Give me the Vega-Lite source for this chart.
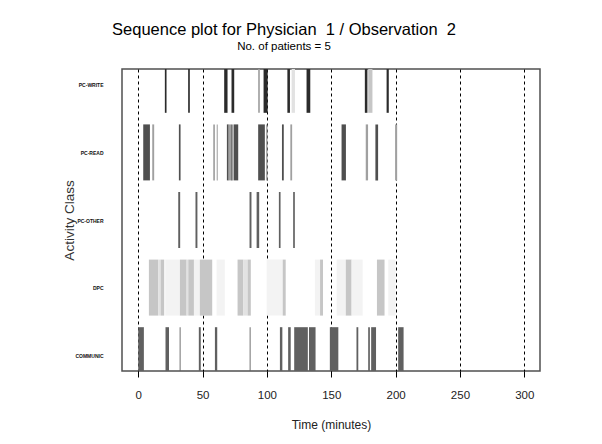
{
  "$schema": "https://vega.github.io/schema/vega-lite/v6.json",
  "width": 418,
  "height": 302,
  "autosize": {"type": "none"},
  "padding": {"left": 122, "top": 69, "right": 62, "bottom": 73},
  "background": "white",
  "title": {
    "text": "Sequence plot for Physician\u00a0 1 / Observation\u00a0 2",
    "subtitle": "No. of patients = 5",
    "anchor": "middle",
    "frame": "group",
    "dx": -47,
    "offset": 17,
    "font": "Liberation Sans",
    "fontSize": 16.5,
    "fontWeight": "normal",
    "color": "black",
    "subtitleFont": "Liberation Sans",
    "subtitleFontSize": 11.5,
    "subtitleColor": "black",
    "subtitlePadding": 2
  },
  "config": {
    "view": {"stroke": "#505050", "strokeWidth": 1.5},
    "axis": {"labelFont": "Liberation Sans", "titleFont": "Liberation Sans"}
  },
  "datasets": {
    "segments": [
      {"activity": "PC-WRITE", "row": 5, "start": 20.7, "end": 22.0, "level": "A"},
      {"activity": "PC-WRITE", "row": 5, "start": 38.8, "end": 40.1, "level": "A"},
      {"activity": "PC-WRITE", "row": 5, "start": 66.8, "end": 69.4, "level": "A"},
      {"activity": "PC-WRITE", "row": 5, "start": 72.5, "end": 74.6, "level": "A"},
      {"activity": "PC-WRITE", "row": 5, "start": 93.2, "end": 94.5, "level": "D"},
      {"activity": "PC-WRITE", "row": 5, "start": 97.4, "end": 100.6, "level": "A"},
      {"activity": "PC-WRITE", "row": 5, "start": 115.9, "end": 117.9, "level": "A"},
      {"activity": "PC-WRITE", "row": 5, "start": 119.2, "end": 121.8, "level": "F"},
      {"activity": "PC-WRITE", "row": 5, "start": 130.8, "end": 133.7, "level": "A"},
      {"activity": "PC-WRITE", "row": 5, "start": 176.1, "end": 178.1, "level": "A"},
      {"activity": "PC-WRITE", "row": 5, "start": 178.7, "end": 182.0, "level": "E"},
      {"activity": "PC-WRITE", "row": 5, "start": 193.0, "end": 194.7, "level": "A"},

      {"activity": "PC-READ", "row": 4, "start": 3.9, "end": 9.1, "level": "B"},
      {"activity": "PC-READ", "row": 4, "start": 10.9, "end": 12.4, "level": "D"},
      {"activity": "PC-READ", "row": 4, "start": 31.6, "end": 32.9, "level": "B"},
      {"activity": "PC-READ", "row": 4, "start": 58.3, "end": 59.6, "level": "D"},
      {"activity": "PC-READ", "row": 4, "start": 61.0, "end": 61.8, "level": "D"},
      {"activity": "PC-READ", "row": 4, "start": 68.9, "end": 70.3, "level": "B"},
      {"activity": "PC-READ", "row": 4, "start": 70.3, "end": 72.3, "level": "D"},
      {"activity": "PC-READ", "row": 4, "start": 72.3, "end": 73.3, "level": "B"},
      {"activity": "PC-READ", "row": 4, "start": 74.1, "end": 77.7, "level": "B"},
      {"activity": "PC-READ", "row": 4, "start": 93.2, "end": 98.4, "level": "B"},
      {"activity": "PC-READ", "row": 4, "start": 99.4, "end": 100.5, "level": "D"},
      {"activity": "PC-READ", "row": 4, "start": 111.7, "end": 113.1, "level": "B"},
      {"activity": "PC-READ", "row": 4, "start": 118.2, "end": 119.6, "level": "D"},
      {"activity": "PC-READ", "row": 4, "start": 158.0, "end": 161.4, "level": "B"},
      {"activity": "PC-READ", "row": 4, "start": 176.8, "end": 178.6, "level": "D"},
      {"activity": "PC-READ", "row": 4, "start": 184.3, "end": 186.4, "level": "B"},
      {"activity": "PC-READ", "row": 4, "start": 199.6, "end": 201.2, "level": "D"},

      {"activity": "PC-OTHER", "row": 3, "start": 31.1, "end": 32.6, "level": "C"},
      {"activity": "PC-OTHER", "row": 3, "start": 44.5, "end": 46.0, "level": "C"},
      {"activity": "PC-OTHER", "row": 3, "start": 86.5, "end": 88.0, "level": "C"},
      {"activity": "PC-OTHER", "row": 3, "start": 92.0, "end": 94.0, "level": "C"},
      {"activity": "PC-OTHER", "row": 3, "start": 109.3, "end": 110.6, "level": "C"},
      {"activity": "PC-OTHER", "row": 3, "start": 120.4, "end": 121.7, "level": "C"},

      {"activity": "DPC", "row": 2, "start": 8.3, "end": 15.5, "level": "E"},
      {"activity": "DPC", "row": 2, "start": 15.5, "end": 17.4, "level": "F"},
      {"activity": "DPC", "row": 2, "start": 17.4, "end": 20.2, "level": "E"},
      {"activity": "DPC", "row": 2, "start": 21.0, "end": 32.4, "level": "G"},
      {"activity": "DPC", "row": 2, "start": 32.4, "end": 37.6, "level": "E"},
      {"activity": "DPC", "row": 2, "start": 37.6, "end": 38.9, "level": "F"},
      {"activity": "DPC", "row": 2, "start": 38.9, "end": 43.3, "level": "E"},
      {"activity": "DPC", "row": 2, "start": 43.3, "end": 47.9, "level": "G"},
      {"activity": "DPC", "row": 2, "start": 47.9, "end": 57.5, "level": "E"},
      {"activity": "DPC", "row": 2, "start": 60.9, "end": 67.3, "level": "G"},
      {"activity": "DPC", "row": 2, "start": 77.2, "end": 81.6, "level": "E"},
      {"activity": "DPC", "row": 2, "start": 81.6, "end": 85.0, "level": "F"},
      {"activity": "DPC", "row": 2, "start": 85.0, "end": 87.5, "level": "E"},
      {"activity": "DPC", "row": 2, "start": 99.8, "end": 112.3, "level": "G"},
      {"activity": "DPC", "row": 2, "start": 112.3, "end": 114.6, "level": "E"},
      {"activity": "DPC", "row": 2, "start": 137.3, "end": 141.3, "level": "G"},
      {"activity": "DPC", "row": 2, "start": 141.3, "end": 143.6, "level": "E"},
      {"activity": "DPC", "row": 2, "start": 154.2, "end": 161.3, "level": "G"},
      {"activity": "DPC", "row": 2, "start": 161.3, "end": 165.8, "level": "E"},
      {"activity": "DPC", "row": 2, "start": 165.8, "end": 174.4, "level": "G"},
      {"activity": "DPC", "row": 2, "start": 185.5, "end": 191.4, "level": "E"},
      {"activity": "DPC", "row": 2, "start": 194.3, "end": 200.1, "level": "G"},

      {"activity": "COMMUNIC", "row": 1, "start": 0.0, "end": 4.4, "level": "C"},
      {"activity": "COMMUNIC", "row": 1, "start": 21.2, "end": 23.9, "level": "C"},
      {"activity": "COMMUNIC", "row": 1, "start": 32.2, "end": 32.9, "level": "C"},
      {"activity": "COMMUNIC", "row": 1, "start": 47.1, "end": 48.6, "level": "C"},
      {"activity": "COMMUNIC", "row": 1, "start": 59.6, "end": 61.4, "level": "C"},
      {"activity": "COMMUNIC", "row": 1, "start": 86.6, "end": 87.3, "level": "C"},
      {"activity": "COMMUNIC", "row": 1, "start": 110.1, "end": 112.0, "level": "C"},
      {"activity": "COMMUNIC", "row": 1, "start": 116.5, "end": 118.5, "level": "C"},
      {"activity": "COMMUNIC", "row": 1, "start": 121.2, "end": 131.8, "level": "C"},
      {"activity": "COMMUNIC", "row": 1, "start": 132.7, "end": 137.8, "level": "C"},
      {"activity": "COMMUNIC", "row": 1, "start": 148.9, "end": 155.5, "level": "C"},
      {"activity": "COMMUNIC", "row": 1, "start": 169.6, "end": 171.0, "level": "C"},
      {"activity": "COMMUNIC", "row": 1, "start": 178.7, "end": 180.0, "level": "C"},
      {"activity": "COMMUNIC", "row": 1, "start": 181.0, "end": 184.8, "level": "C"},
      {"activity": "COMMUNIC", "row": 1, "start": 202.0, "end": 206.2, "level": "C"}
    ]
  },
  "data": {"name": "segments"},
  "mark": {"type": "bar", "orient": "horizontal", "size": 56, "clip": true},
  "encoding": {
    "x": {
      "field": "start",
      "type": "quantitative",
      "scale": {"domain": [-12.6, 312.2], "nice": false, "zero": false},
      "axis": {
        "title": "Time (minutes)",
        "values": [0, 50, 100, 150, 200, 250, 300],
        "domain": false,
        "grid": true,
        "gridColor": "black",
        "gridDash": [3, 3],
        "gridWidth": 1,
        "gridOpacity": 1,
        "ticks": true,
        "tickSize": 6,
        "tickColor": "black",
        "tickWidth": 1,
        "labelFontSize": 11.5,
        "labelColor": "#222",
        "labelPadding": 12,
        "titleFontSize": 12,
        "titleFontWeight": "normal",
        "titleColor": "#222",
        "titlePadding": 19
      }
    },
    "x2": {"field": "end"},
    "y": {
      "field": "row",
      "type": "quantitative",
      "scale": {"domain": [0.84, 5.16], "nice": false, "zero": false},
      "axis": {
        "title": "Activity Class",
        "values": [1, 2, 3, 4, 5],
        "labelExpr": "['', 'COMMUNIC', 'DPC', 'PC-OTHER', 'PC-READ', 'PC-WRITE'][datum.value]",
        "domain": false,
        "grid": false,
        "ticks": false,
        "labelPadding": 19,
        "labelFontSize": 5,
        "labelFontWeight": "bold",
        "labelColor": "#111",
        "titleFontSize": 13.5,
        "titleFontWeight": "normal",
        "titleColor": "#333",
        "titlePadding": -2
      }
    },
    "color": {
      "field": "level",
      "type": "nominal",
      "scale": {
        "domain": ["A", "B", "C", "D", "E", "F", "G"],
        "range": ["#2b2b2b", "#4f4f4f", "#606060", "#a0a0a0", "#c6c6c6", "#e2e2e2", "#f3f3f3"]
      },
      "legend": null
    },
    "tooltip": [{"field": "activity"}, {"field": "start"}, {"field": "end"}]
  }
}
